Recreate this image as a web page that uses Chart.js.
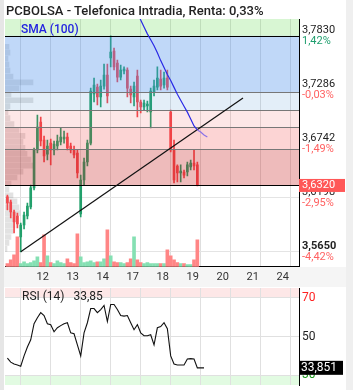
<!DOCTYPE html>
<html>
<head>
<meta charset="utf-8">
<script src="https://cdn.jsdelivr.net/npm/chart.js@4.4.0/dist/chart.umd.min.js"></script>
<style>
body { margin: 0; background: #fff; width: 353px; height: 390px; overflow: hidden; position: relative; font-family: Roboto, sans-serif; }
.abs { position: absolute; }
</style>
</head>
<body>
<div class="abs" style="left:0;top:0;width:4px;height:390px;background:#e6e6e6"></div>
<div class="abs" style="left:346px;top:0;width:7px;height:390px;background:#efefef"></div>
<div class="abs" style="left:4px;top:267px;width:342px;height:20px;background:#f5f5f5"></div>
<canvas id="main" class="abs" style="left:0;top:0" width="347" height="287"></canvas>
<canvas id="rsi" class="abs" style="left:0;top:287px" width="347" height="100"></canvas>
<div class="abs" style="left:6px;top:3px;font-size:13px;font-weight:500;color:#222">PCBOLSA - Telefonica Intradia, Renta: 0,33%</div>
<div class="abs" style="left:21px;top:22px;font-size:12px;color:#2424e0;font-weight:500">SMA (100)</div>
<div class="abs" style="left:22px;top:289px;font-size:12px;color:#222">RSI (14)&nbsp;&nbsp;&nbsp;33,85</div>
<script>
// hourly candles, 11 -> 19 (9 per day)
const opens = [3.6204, 3.6153, 3.6052, 3.6012, 3.5800, 3.5921, 3.6012, 3.6103, 3.6295, 3.6678,
  3.6960, 3.6779, 3.6637, 3.6748, 3.6678, 3.6718, 3.6759, 3.6789, 3.6809, 3.6718,
  3.6678, 3.6648, 3.6032, 3.6375, 3.6557, 3.6748, 3.7243, 3.7313, 3.7213, 3.7323,
  3.7435, 3.7606, 3.7677, 3.7556, 3.7414, 3.7475, 3.7485, 3.7293, 3.7213, 3.7425,
  3.7162, 3.7112, 3.7122, 3.7061, 3.7263, 3.7313, 3.7394, 3.7334, 3.7404, 3.7061,
  3.6678, 3.6516, 3.6446, 3.6456, 3.6456, 3.6506, 3.6547, 3.6527]
const highs = [3.6224, 3.6173, 3.6072, 3.6042, 3.5941, 3.6052, 3.6143, 3.6325, 3.6698, 3.7031,
  3.7011, 3.6819, 3.6779, 3.6789, 3.6769, 3.6829, 3.6900, 3.6869, 3.6849, 3.6748,
  3.6718, 3.6678, 3.6425, 3.6597, 3.6779, 3.7303, 3.7404, 3.7344, 3.7384, 3.7546,
  3.7546, 3.7830, 3.7707, 3.7586, 3.7536, 3.7516, 3.7506, 3.7323, 3.7364, 3.7485,
  3.7182, 3.7182, 3.7172, 3.7303, 3.7384, 3.7516, 3.7485, 3.7465, 3.7485, 3.7082,
  3.6779, 3.6527, 3.6527, 3.6476, 3.6557, 3.6577, 3.6678, 3.6557]
const lows = [3.6072, 3.5992, 3.5840, 3.5891, 3.5650, 3.5881, 3.5981, 3.6082, 3.6274, 3.6648,
  3.6718, 3.6557, 3.6577, 3.6527, 3.6627, 3.6678, 3.6728, 3.6748, 3.6678, 3.6648,
  3.6597, 3.6395, 3.6002, 3.6325, 3.6516, 3.6728, 3.7162, 3.7132, 3.7112, 3.7293,
  3.7152, 3.7516, 3.7485, 3.7364, 3.7384, 3.7445, 3.7213, 3.7152, 3.7122, 3.7011,
  3.7051, 3.7082, 3.7061, 3.6900, 3.7223, 3.7283, 3.7283, 3.7303, 3.7283, 3.6658,
  3.6345, 3.6355, 3.6355, 3.6395, 3.6415, 3.6476, 3.6476, 3.6315]
const closes = [3.6143, 3.6052, 3.5951, 3.5931, 3.5921, 3.6022, 3.6113, 3.6295, 3.6678, 3.6910,
  3.6769, 3.6617, 3.6718, 3.6678, 3.6738, 3.6769, 3.6809, 3.6809, 3.6698, 3.6678,
  3.6627, 3.6446, 3.6375, 3.6557, 3.6748, 3.7273, 3.7334, 3.7213, 3.7323, 3.7435,
  3.7223, 3.7667, 3.7516, 3.7414, 3.7485, 3.7495, 3.7303, 3.7233, 3.7323, 3.7162,
  3.7112, 3.7152, 3.7142, 3.7273, 3.7323, 3.7404, 3.7323, 3.7404, 3.7313, 3.6678,
  3.6375, 3.6446, 3.6466, 3.6425, 3.6527, 3.6547, 3.6516, 3.6320]
// volume, thousands of shares
const volumes = [75, 175, 300, 750, 75, 125, 75, 100, 150, 250,
  100, 800, 275, 100, 75, 150, 100, 75, 200, 100,
  75, 825, 250, 100, 125, 150, 100, 125, 125, 200,
  925, 275, 125, 100, 100, 75, 100, 200, 750, 175,
  100, 75, 100, 75, 75, 75, 75, 75, 425, 275,
  175, 100, 75, 75, 50, 50, 175, 675]

const smaStart = 38
const sma100 = [3.8140, 3.8070, 3.7990, 3.7920, 3.7850, 3.7790, 3.7730, 3.7660, 3.7580, 3.7510,
  3.7440, 3.7380, 3.7310, 3.7240, 3.7180, 3.7120, 3.7060, 3.6990, 3.6920, 3.6880,
  3.6860, 3.6830, 3.6810]

const rsi14 = [38.9, 36.8, 35.8, 35.3, 34.7, 40.0, 44.6, 48.3, 56.6, 59.7,
  62.3, 60.8, 56.6, 56.1, 52.4, 54.5, 55.6, 56.6, 57.1, 51.9,
  51.4, 45.7, 40.0, 51.9, 57.1, 64.4, 64.4, 62.3, 63.9, 66.0,
  57.7, 66.5, 66.5, 63.9, 60.8, 60.5, 60.8, 57.1, 53.5, 56.1,
  51.9, 50.4, 50.4, 50.9, 45.7, 54.5, 55.1, 57.1, 54.0, 40.0,
  35.8, 35.3, 35.3, 35.3, 38.4, 38.6, 38.4, 33.85, 33.85, 33.85]
const rsiLast = 33.851

// volume profile (price bin, thousands)
const profPrices = [3.772, 3.766, 3.760, 3.754, 3.748, 3.742, 3.736, 3.730, 3.724, 3.718,
  3.712, 3.706, 3.700, 3.694, 3.688, 3.682, 3.676, 3.670, 3.664, 3.658,
  3.652, 3.646, 3.640, 3.634, 3.628, 3.622, 3.616, 3.610, 3.604, 3.598,
  3.592, 3.586, 3.580, 3.574, 3.568]
const profSizes = [136, 170, 102, 136, 170, 272, 952, 476, 204, 952,
  170, 102, 170, 306, 476, 680, 612, 680, 748, 884,
  952, 612, 408, 204, 136, 272, 408, 476, 510, 408,
  340, 272, 204, 136, 68]

const trendFrom = [4, 3.5650]
const trendTo = [70.7, 3.7203]

const bandEdges = [3.8000, 3.7830, 3.7263, 3.7082, 3.6905, 3.6688, 3.6320]
const bandFills = ['rgba(100,220,80,0.25)', 'rgba(75,143,235,0.35)', 'rgba(70,140,210,0.15)',
  'rgba(240,60,60,0.12)', 'rgba(240,40,40,0.2)', 'rgba(200,30,30,0.3)']
const bandLines = [null, '#000', '#777', '#777', '#777', '#777', '#000']

const priceTicks = [3.7830, 3.7286, 3.6742, 3.6198, 3.5650]
const priceText = ['3,7830', '3,7286', '3,6742', '3,6198', '3,5650']
const pctText = ['1,42%', '-0,03%', '-1,49%', '-2,95%', '-4,42%']

const dayTicks = [4, 13, 22, 31, 40, 49, 58, 67, 76, 85]
const dayLabels = ['12', '13', '14', '17', '18', '19', '20', '21', '24', '']
const xMin = -0.72, xMax = 87.5

const upColor = '#22a06b', downColor = '#f2484d'
const upVol = '#85e0b3', downVol = '#ff8585'

const idx = opens.map((_, i) => i)
const up = i => closes[i] >= opens[i]

const bandsPlugin = {
  id: 'bands',
  afterDatasetDraw(chart, args) {
    if (chart.data.datasets[args.index].label !== 'body') return
    const {ctx, chartArea: a, scales: {y}} = chart
    ctx.save()
    for (let k = 0; k < bandFills.length; k++) {
      const y0 = y.getPixelForValue(bandEdges[k]), y1 = y.getPixelForValue(bandEdges[k + 1])
      ctx.fillStyle = bandFills[k]
      ctx.fillRect(a.left, y0, a.right - a.left, y1 - y0)
    }
    bandEdges.forEach((v, k) => {
      if (!bandLines[k]) return
      const py = Math.round(y.getPixelForValue(v)) + 0.5
      ctx.strokeStyle = bandLines[k]
      ctx.lineWidth = 1
      ctx.beginPath(); ctx.moveTo(a.left, py); ctx.lineTo(a.right, py); ctx.stroke()
    })
    ctx.restore()
  }
}

const priceLabelsPlugin = {
  id: 'priceLabels',
  afterDraw(chart) {
    const {ctx, scales: {y}} = chart
    ctx.save()
    ctx.font = '11px Roboto'
    ctx.textBaseline = 'middle'
    priceTicks.forEach((v, k) => {
      ctx.fillStyle = k === 0 ? '#1f9e6e' : '#ff6262'
      ctx.fillText(pctText[k], y.left + 3, y.getPixelForValue(v) + 5.5)
    })
    const last = closes[closes.length - 1]
    const py = y.getPixelForValue(last)
    ctx.fillStyle = '#ff5757'
    ctx.fillRect(y.left, py - 6.5, 46, 13)
    ctx.fillStyle = '#fff'
    ctx.fillText(last.toFixed(4).replace('.', ','), y.left + 3, py)
    ctx.restore()
  }
}

new Chart(document.getElementById('main'), {
  data: {
    datasets: [
      {
        type: 'line', label: 'sma', order: 0,
        data: sma100.map((v, k) => ({x: smaStart + k, y: v})),
        borderColor: '#2a2ae6', borderWidth: 1.2, pointRadius: 0,
        segment: {borderColor: c => c.p0.parsed.x >= closes.length - 1 ? '#8b72e8' : undefined}
      },
      {
        type: 'line', label: 'trend', order: 1,
        data: [{x: trendFrom[0], y: trendFrom[1]}, {x: trendTo[0], y: trendTo[1]}],
        borderColor: '#111', borderWidth: 1.2, pointRadius: 0
      },
      {
        type: 'bar', label: 'body', order: 3, grouped: false,
        data: idx.map(i => ({x: i, y: [opens[i], closes[i]]})),
        backgroundColor: idx.map(i => up(i) ? upColor : downColor),
        barThickness: 2, minBarLength: 1
      },
      {
        type: 'bar', label: 'wick', order: 4, grouped: false,
        data: idx.map(i => ({x: i, y: [lows[i], highs[i]]})),
        backgroundColor: idx.map(i => up(i) ? upColor : downColor),
        barThickness: 1
      },
      {
        type: 'bar', label: 'volume', order: 5, grouped: false, yAxisID: 'yVol',
        data: idx.map(i => ({x: i, y: volumes[i]})),
        backgroundColor: idx.map(i => up(i) ? upVol : downVol),
        barThickness: 3
      },
      {
        type: 'bar', label: 'profile', order: 6, grouped: false, indexAxis: 'y',
        xAxisID: 'xProf', yAxisID: 'y',
        data: profPrices.map((p, k) => ({x: profSizes[k], y: p})),
        backgroundColor: 'rgba(110,110,110,0.2)',
        barThickness: 5
      }
    ]
  },
  options: {
    responsive: false, animation: false, devicePixelRatio: 1,
    layout: {padding: {left: 5, top: 19, right: 0, bottom: 0}},
    plugins: {legend: {display: false}, tooltip: {enabled: false}},
    scales: {
      x: {
        type: 'linear', position: 'bottom', min: xMin, max: xMax, offset: false,
        afterBuildTicks: s => { s.ticks = dayTicks.map(v => ({value: v})) },
        afterFit: s => { s.height = 20.3; s.paddingLeft = 0; s.paddingRight = 0 },
        ticks: {callback: (v, i) => dayLabels[i], labelOffset: 22, padding: 4, autoSkip: false, maxRotation: 0,
          color: '#333', font: {family: 'Roboto', size: 11}},
        grid: {color: '#dedede', drawTicks: false, offset: false},
        border: {color: '#000'}
      },
      y: {
        type: 'linear', position: 'right', min: 3.55, max: 3.80, offset: false,
        afterBuildTicks: s => { s.ticks = priceTicks.map(v => ({value: v})) },
        afterFit: s => { s.width = 48; s.paddingTop = 0; s.paddingBottom = 0 },
        ticks: {callback: (v, i) => [priceText[i], ''], padding: 3, color: '#222',
          font: c => ({family: 'Roboto', size: 11, lineHeight: 1, weight: c.index === 4 ? 'bold' : 'normal'})},
        grid: {color: c => c.tick && c.tick.value < 3.632 ? '#e4e4e4' : 'rgba(0,0,0,0)', drawTicks: false, offset: false},
        border: {color: '#000'}
      },
      yVol: {type: 'linear', display: false, min: 0, max: 6200, offset: false},
      xProf: {type: 'linear', display: false, min: 0, max: 10000, offset: false}
    }
  },
  plugins: [bandsPlugin, priceLabelsPlugin]
})

const rsiPlugin = {
  id: 'rsiBands',
  beforeDraw(chart) {
    const {ctx, chartArea: a, scales: {y}} = chart
    ctx.save()
    ctx.fillStyle = '#fde7e7'
    ctx.fillRect(a.left, a.top, a.right - a.left, y.getPixelForValue(70) - a.top)
    ctx.fillStyle = '#e2fbe2'
    ctx.fillRect(a.left, y.getPixelForValue(30), a.right - a.left, a.bottom - y.getPixelForValue(30))
    ctx.restore()
  },
  afterDraw(chart) {
    const {ctx, scales: {y}} = chart
    const py = y.getPixelForValue(rsiLast)
    ctx.save()
    ctx.fillStyle = '#000'
    ctx.fillRect(y.left, py - 7, 44, 14)
    ctx.fillStyle = '#fff'
    ctx.font = '12px Roboto'
    ctx.textBaseline = 'middle'
    ctx.fillText(rsiLast.toFixed(3).replace('.', ','), y.left + 2, py)
    ctx.restore()
  }
}

new Chart(document.getElementById('rsi'), {
  type: 'line',
  data: {
    datasets: [{
      data: rsi14.map((v, i) => ({x: i, y: v})),
      borderColor: '#111', borderWidth: 1.1, pointRadius: 0
    }]
  },
  options: {
    responsive: false, animation: false, devicePixelRatio: 1,
    layout: {padding: {left: 5, top: 1, right: 0, bottom: 2}},
    plugins: {legend: {display: false}, tooltip: {enabled: false}},
    scales: {
      x: {
        type: 'linear', min: xMin, max: xMax,
        afterBuildTicks: s => { s.ticks = dayTicks.map(v => ({value: v})) },
        afterFit: s => { s.height = 0; s.paddingLeft = 0; s.paddingRight = 0 },
        ticks: {display: false},
        grid: {color: '#e0e0e0', drawTicks: false},
        border: {display: false}
      },
      y: {
        position: 'right', min: 25, max: 75,
        afterBuildTicks: s => { s.ticks = [30, 50, 70].map(v => ({value: v})) },
        afterFit: s => { s.width = 48; s.paddingTop = 0; s.paddingBottom = 0 },
        ticks: {padding: 3, font: {family: 'Roboto', size: 12},
          color: c => c.tick.value === 70 ? '#ff2020' : c.tick.value === 30 ? '#1a9a1a' : '#222'},
        grid: {color: '#e0e0e0', drawTicks: false},
        border: {color: '#000'}
      }
    }
  },
  plugins: [rsiPlugin]
})
</script>
</body>
</html>
